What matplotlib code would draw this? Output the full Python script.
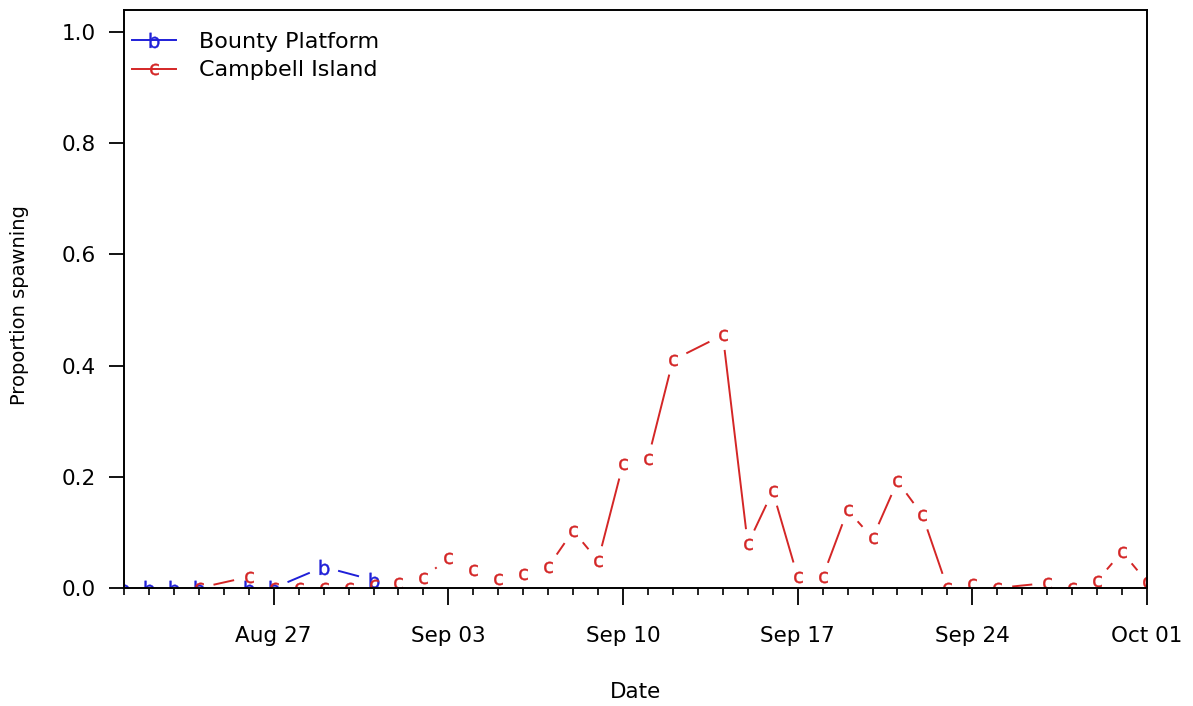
import numpy as np
import matplotlib
matplotlib.use("Agg")
import matplotlib.pyplot as plt
import matplotlib.dates as mdates
from matplotlib.lines import Line2D

# daily spawning proportions per site
bounty_dates = ["2019-08-21", "2019-08-22", "2019-08-23", "2019-08-24",
                "2019-08-26", "2019-08-27", "2019-08-29", "2019-08-31"]
bounty_prop = [0.0, 0.0, 0.0, 0.0, 0.0, 0.0, 0.038, 0.014]

campbell_dates = ["2019-08-24", "2019-08-26", "2019-08-27", "2019-08-28",
                  "2019-08-29", "2019-08-30", "2019-08-31", "2019-09-01",
                  "2019-09-02", "2019-09-03", "2019-09-04", "2019-09-05",
                  "2019-09-06", "2019-09-07", "2019-09-08", "2019-09-09",
                  "2019-09-10", "2019-09-11", "2019-09-12", "2019-09-14",
                  "2019-09-15", "2019-09-16", "2019-09-17", "2019-09-18",
                  "2019-09-19", "2019-09-20", "2019-09-21", "2019-09-22",
                  "2019-09-23", "2019-09-24", "2019-09-25", "2019-09-27",
                  "2019-09-28", "2019-09-29", "2019-09-30", "2019-10-01"]
campbell_prop = [0.0, 0.02, 0.0, 0.0,
                 0.0, 0.0, 0.005, 0.009,
                 0.018, 0.054, 0.032, 0.016,
                 0.025, 0.038, 0.103, 0.049,
                 0.223, 0.232, 0.41, 0.455,
                 0.079, 0.174, 0.02, 0.02,
                 0.14, 0.09, 0.192, 0.131,
                 0.0, 0.007, 0.0, 0.009,
                 0.0, 0.013, 0.065, 0.011]

tick_dates = ["2019-08-27", "2019-09-03", "2019-09-10",
              "2019-09-17", "2019-09-24", "2019-10-01"]
date_range = ["2019-08-21", "2019-10-01"]
y_ticks = [0.0, 0.2, 0.4, 0.6, 0.8, 1.0]

BLUE = "#1f1fd8"
RED = "#d42626"
GAP_PX = 15
LW = 1.4


def to_num(days):
    return mdates.date2num(np.array(days, dtype="datetime64[D]"))


def gapped_lines(ax, x, y, gap, **kw):
    # R type="b": join points but stop short of each symbol
    pts = ax.transData.transform(np.column_stack([x, y]))
    inv = ax.transData.inverted()
    for p0, p1 in zip(pts[:-1], pts[1:]):
        d = p1 - p0
        dist = np.hypot(d[0], d[1])
        if dist <= 2 * gap:
            continue
        u = d / dist
        seg = inv.transform(np.array([p0 + u * gap, p1 - u * gap]))
        ax.plot(seg[:, 0], seg[:, 1], solid_capstyle="butt", **kw)


def letter_style(ch, color, size):
    return dict(marker=r"$\mathrm{%s}$" % ch, ms=size, mew=0.3,
                mec=color, mfc=color)


fig = plt.figure(figsize=(11.93, 7.06), dpi=100)
ax = fig.add_axes([124 / 1193, 118 / 706, 1023 / 1193, 578 / 706])

x0, x1 = to_num(date_range)
ax.set_xlim(x0, x1)
ax.set_ylim(0, 578 / 556)

bx, cx = to_num(bounty_dates), to_num(campbell_dates)

gapped_lines(ax, bx, bounty_prop, GAP_PX, color=BLUE, lw=LW)
ax.plot(bx, bounty_prop, ls="none", **letter_style("b", BLUE, 11))
gapped_lines(ax, cx, campbell_prop, GAP_PX, color=RED, lw=LW)
ax.plot(cx, campbell_prop, ls="none", **letter_style("c", RED, 8.2))

ax.set_xticks(to_num(tick_dates))
ax.xaxis.set_minor_locator(mdates.DayLocator())
ax.xaxis.set_major_formatter(mdates.DateFormatter("%b %d"))
ax.set_yticks(y_ticks)
ax.set_yticklabels([f"{v:.1f}" for v in y_ticks])

for s in ax.spines.values():
    s.set_linewidth(1.4)
ax.tick_params(axis="both", which="major", length=11, width=1.3,
               labelsize=15.5, direction="out")
ax.tick_params(axis="x", which="major", length=12, pad=15)
ax.tick_params(axis="y", which="major", pad=9)
ax.tick_params(axis="x", which="minor", length=5, width=1.2)

ax.set_xlabel("Date", fontsize=15.5, va="center")
ax.xaxis.set_label_coords(0.5, -0.18)
ax.set_ylabel("Proportion spawning", fontsize=14, va="center")
ax.yaxis.set_label_coords(-0.1017, 0.49)

handles = [
    Line2D([], [], color=BLUE, lw=LW, **letter_style("b", BLUE, 11)),
    Line2D([], [], color=RED, lw=LW, **letter_style("c", RED, 8.2)),
]
ax.legend(handles, ["Bounty Platform", "Campbell Island"], loc="upper left",
          bbox_to_anchor=(0.0078, 0.962), frameon=False, fontsize=16,
          borderpad=0, borderaxespad=0, handlelength=2.0,
          handletextpad=1.0, labelspacing=0.38)

fig.savefig("out.png", dpi=100)
